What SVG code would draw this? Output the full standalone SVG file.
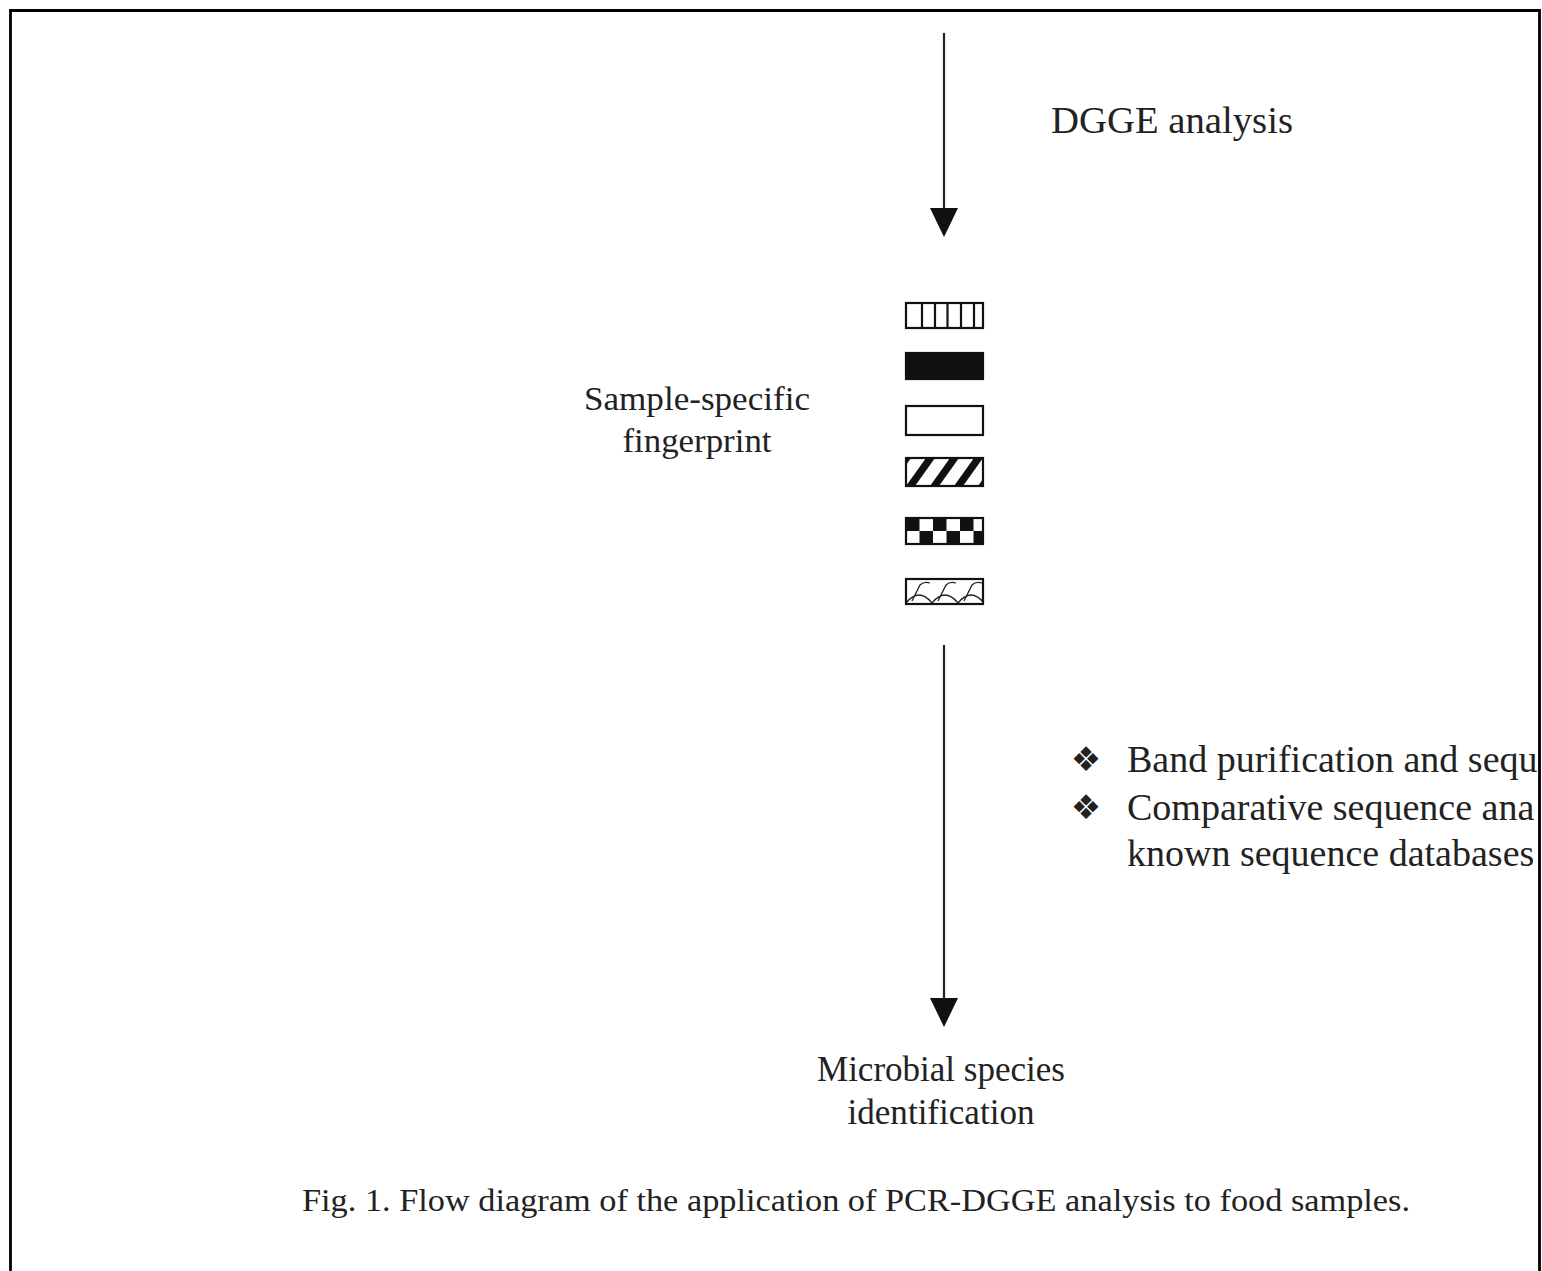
<svg xmlns="http://www.w3.org/2000/svg" width="1542" height="1271" viewBox="0 0 1542 1271">
<style>
.t{font-family:"Liberation Serif","Times New Roman",serif;fill:#222}
.band{stroke:#111;stroke-width:2.2}
.conn line{stroke:#222;stroke-width:2.2}
.conn polygon{fill:#111}
.frame{stroke:#000;stroke-width:2.8;fill:none}
.bullet{font-family:"DejaVu Sans",sans-serif;fill:#222;font-size:34px}
</style>
<defs>
<pattern id="diag" patternUnits="userSpaceOnUse" x="906" y="458" width="24" height="28">
<rect width="24" height="28" fill="#fff"/>
<polygon points="0,28 9,28 29,0 20,0" fill="#111"/>
<polygon points="-24,28 -15,28 5,0 -4,0" fill="#111"/>
</pattern>
<pattern id="checker" patternUnits="userSpaceOnUse" x="906" y="518" width="27" height="26">
<rect width="27" height="26" fill="#fff"/>
<rect x="0" y="0" width="13.5" height="13" fill="#111"/>
<rect x="13.5" y="13" width="13.5" height="13" fill="#111"/>
</pattern>
<pattern id="wave" patternUnits="userSpaceOnUse" x="906" y="579" width="26" height="26">
<rect width="26" height="26" fill="#fff"/>
<path d="M0,24 Q13,8 26,24 M6,22 L14,6 Q18,2 24,4" fill="none" stroke="#222" stroke-width="1.3"/>
</pattern>
<clipPath id="clipR"><rect x="0" y="0" width="1538" height="1271"/></clipPath>
</defs>
<rect width="1542" height="1271" fill="#fff"/>
<path class="frame" d="M10.5,1271 V10.5 H1539.5 V1271"/>

<g id="label-dgge"><text class="t" x="1051" y="133" font-size="38" textLength="242" lengthAdjust="spacingAndGlyphs">DGGE analysis</text></g>

<g id="fingerprint">
<g id="band1">
<rect class="band" x="906" y="303" width="77" height="25" fill="#fff"/>
<path d="M922,303 V328 M935,303 V328 M947.5,303 V328 M961,303 V328 M974,303 V328" stroke="#111" stroke-width="2.2"/>
</g>
<rect id="band2" class="band" x="906" y="353" width="77" height="26" fill="#111"/>
<rect id="band3" class="band" x="906" y="406" width="77" height="29" fill="#fff"/>
<rect id="band4" class="band" x="906" y="458" width="77" height="28" fill="url(#diag)"/>
<rect id="band5" class="band" x="906" y="518" width="77" height="26" fill="url(#checker)"/>
<rect id="band6" class="band" x="906" y="579" width="77" height="25" fill="url(#wave)"/>
</g>

<g id="label-fingerprint">
<text class="t" x="697" y="410" font-size="34" text-anchor="middle" textLength="226" lengthAdjust="spacingAndGlyphs">Sample-specific</text>
<text class="t" x="697" y="452" font-size="34" text-anchor="middle" textLength="149" lengthAdjust="spacingAndGlyphs">fingerprint</text>
</g>

<g id="label-steps" clip-path="url(#clipR)">
<text class="bullet" x="1086" y="771" text-anchor="middle">❖</text>
<text class="bullet" x="1086" y="819" text-anchor="middle">❖</text>
<text class="t" x="1127" y="772" font-size="38">Band purification and sequ</text>
<text class="t" x="1127" y="820" font-size="38">Comparative sequence ana</text>
<text class="t" x="1127" y="866" font-size="38">known sequence databases</text>
</g>

<g id="label-identification">
<text class="t" x="941" y="1081" font-size="35" text-anchor="middle" textLength="248" lengthAdjust="spacingAndGlyphs">Microbial species</text>
<text class="t" x="941" y="1124" font-size="35" text-anchor="middle" textLength="187" lengthAdjust="spacingAndGlyphs">identification</text>
</g>

<g id="caption"><text class="t" x="302" y="1211" font-size="31" textLength="1108" lengthAdjust="spacingAndGlyphs">Fig. 1. Flow diagram of the application of PCR-DGGE analysis to food samples.</text></g>

<g id="connectors" class="conn">
<line x1="944" y1="33" x2="944" y2="212"/>
<polygon points="930,208 958,208 944,237"/>
<line x1="944" y1="645" x2="944" y2="1002"/>
<polygon points="930,998 958,998 944,1027"/>
</g>
</svg>
